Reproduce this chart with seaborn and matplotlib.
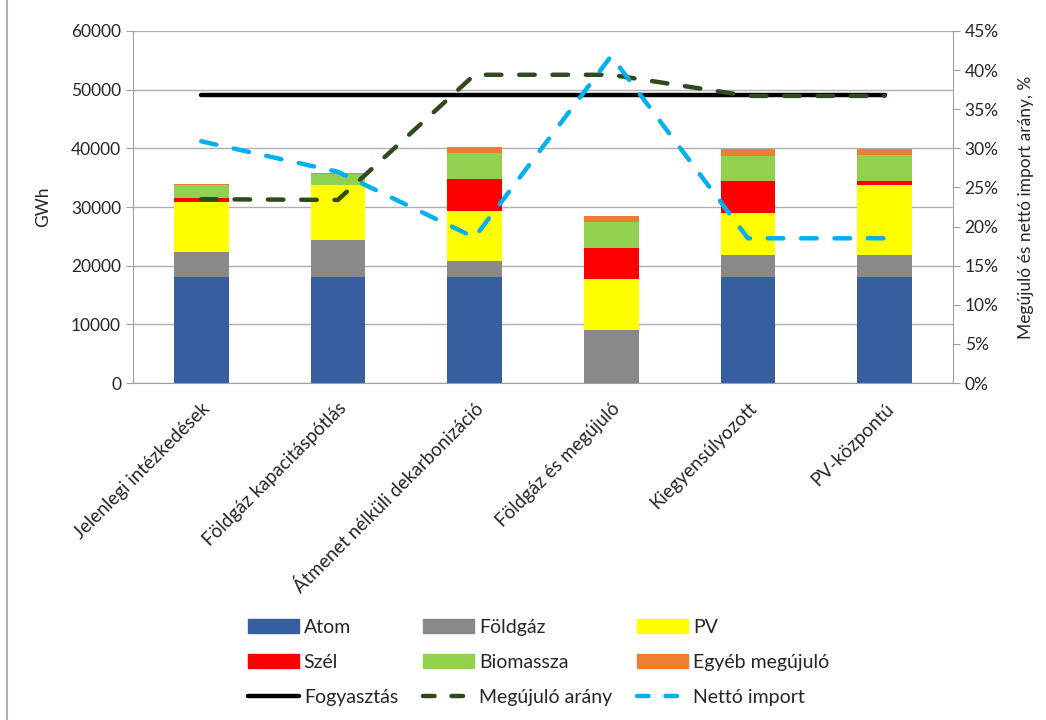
import numpy as np
import matplotlib
matplotlib.use('Agg')
import matplotlib.pyplot as plt
import seaborn as sns
from matplotlib.lines import Line2D

forgatokonyvek = ['Jelenlegi intézkedések', 'Földgáz kapacitáspótlás',
                  'Átmenet nélküli dekarbonizáció', 'Földgáz és megújuló',
                  'Kiegyensúlyozott', 'PV-központú']

atom = [18000, 18000, 18000, 0, 18000, 18000]
foldgaz = [4400, 6400, 2850, 9000, 3850, 3850]
pv = [8500, 9350, 8550, 8650, 7150, 11950]
szel = [700, 0, 5400, 5350, 5400, 550]
biomassza = [2150, 1950, 4400, 4450, 4350, 4500]
egyeb = [250, 150, 1000, 950, 1050, 1050]

fogyasztas = [49100, 49100, 49100, 49100, 49100, 49100]
megujulo_arany = [23.5, 23.4, 39.4, 39.4, 36.7, 36.7]
netto_import = [30.9, 27.0, 18.6, 41.8, 18.5, 18.5]

sns.set_style('white')
plt.rcParams['font.family'] = ['Lato', 'DejaVu Sans']
fs = 12.5

fig = plt.figure(figsize=(10.46, 7.2), dpi=100)
ax = fig.add_axes([0.127, 0.468, 0.784, 0.489])

sorozatok = [('Atom', atom, '#375fa0'), ('Földgáz', foldgaz, '#898989'),
             ('PV', pv, '#ffff00'), ('Szél', szel, '#ff0000'),
             ('Biomassza', biomassza, '#92d050'), ('Egyéb megújuló', egyeb, '#ed7d31')]

alap = np.zeros(len(forgatokonyvek))
kezelok = {}
for nev, ertek, szin in sorozatok:
    sns.barplot(x=forgatokonyvek, y=ertek, bottom=alap, color=szin, width=0.4,
                ax=ax, saturation=1, linewidth=0, zorder=2)
    alap = alap + np.array(ertek)
    kezelok[nev] = plt.Rectangle((0, 0), 1, 1, color=szin)

poz = np.arange(len(forgatokonyvek))
sns.lineplot(x=poz, y=fogyasztas, ax=ax, color='black', linewidth=3.2,
             solid_capstyle='round', zorder=3)
kezelok['Fogyasztás'] = Line2D([], [], color='black', linewidth=3.2)

ax.set_ylim(0, 60000)
ax.set_yticks(np.arange(0, 60001, 10000))
ax.set_xlim(-0.5, 5.5)
ax.set_xticks(poz)
ax.set_xticklabels(forgatokonyvek, rotation=45, ha='right', rotation_mode='anchor',
                   fontsize=13.5)
ax.set_xticks(np.arange(-0.5, 5.6, 1), minor=True)
ax.tick_params(axis='x', which='major', length=0, pad=12)
ax.tick_params(axis='x', which='minor', length=5, color='#a0a0a0', direction='out')
ax.tick_params(axis='y', length=5, color='#a0a0a0', direction='out', labelsize=fs, left=True)
ax.set_ylabel('GWh', fontsize=fs, labelpad=14)
ax.set_xlabel('')
ax.yaxis.grid(True, color='#b0b0b0', linewidth=1)
ax.set_axisbelow(True)
for s in ['top', 'right']:
    ax.spines[s].set_visible(False)
for s in ['left', 'bottom']:
    ax.spines[s].set_color('#a0a0a0')

ax2 = ax.twinx()
sns.lineplot(x=poz, y=megujulo_arany, ax=ax2, color='#2f4a1f', linewidth=3.2,
             dashes=(3.5, 4), dash_capstyle='round')
sns.lineplot(x=poz, y=netto_import, ax=ax2, color='#00b0f0', linewidth=3.2,
             dashes=(3.5, 4), dash_capstyle='round')
kezelok['Megújuló arány'] = Line2D([], [], color='#2f4a1f', linewidth=3.2,
                                   dashes=(2.6, 3.8), dash_capstyle='round')
kezelok['Nettó import'] = Line2D([], [], color='#00b0f0', linewidth=3.2,
                                 dashes=(2.6, 3.8), dash_capstyle='round')
ax2.set_ylim(0, 45)
ax2.set_yticks(np.arange(0, 46, 5))
ax2.set_yticklabels([f'{v}%' for v in range(0, 46, 5)])
ax2.tick_params(axis='y', length=5, color='#a0a0a0', direction='out', labelsize=fs, right=True)
ax2.set_ylabel('Megújuló és nettó import arány, %', fontsize=fs, labelpad=14)
for s in ['top', 'left', 'bottom']:
    ax2.spines[s].set_visible(False)
ax2.spines['right'].set_color('#a0a0a0')
ax2.set_xlim(-0.5, 5.5)

sorrend = ['Atom', 'Szél', 'Fogyasztás', 'Földgáz', 'Biomassza', 'Megújuló arány',
           'PV', 'Egyéb megújuló', 'Nettó import']
fig.legend([kezelok[n] for n in sorrend], sorrend, loc='center', ncol=3,
           bbox_to_anchor=(0.515, 0.08), frameon=False, fontsize=14,
           handlelength=2.6, handleheight=0.7, columnspacing=1.3, labelspacing=0.93,
           handletextpad=0.26)

fig.add_artist(Line2D([0.007, 0.007], [0, 1], color='#b0b0b0', linewidth=1.5,
                      transform=fig.transFigure))

fig.savefig('out.png', dpi=100)
